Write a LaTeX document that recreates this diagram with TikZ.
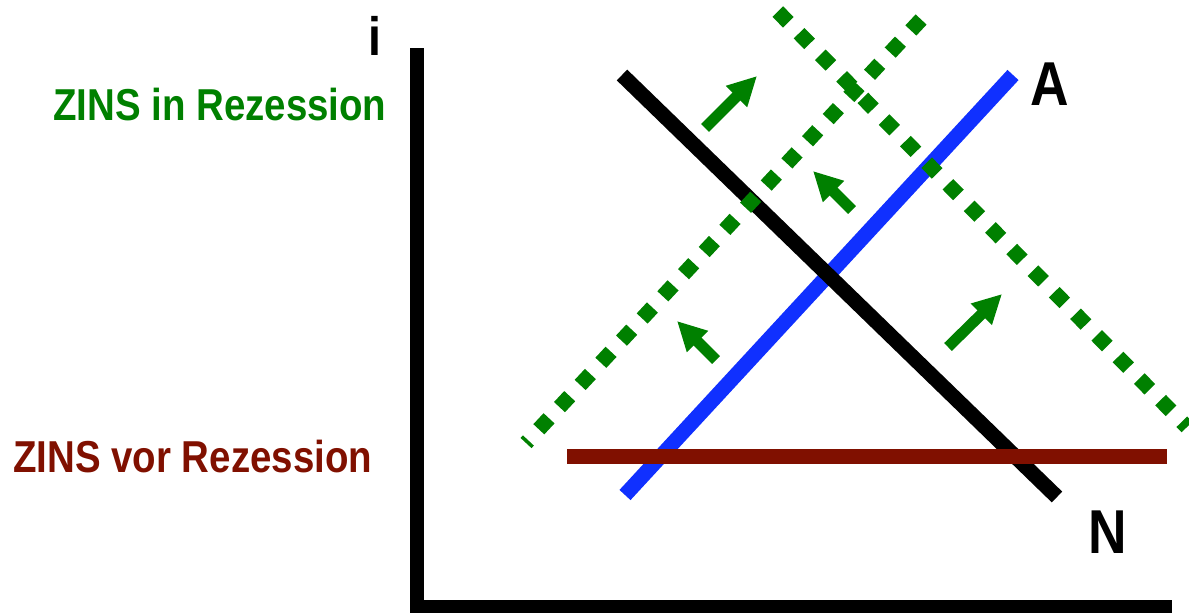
\documentclass[tikz,border=0pt]{standalone}
\usepackage{fontspec}
\setmainfont{Liberation Sans}[FakeStretch=0.86]
\usetikzlibrary{arrows.meta}
\definecolor{zgreen}{RGB}{0,128,0}
\definecolor{zblue}{RGB}{16,48,255}
\definecolor{zbrown}{RGB}{128,16,0}
\begin{document}
\begin{tikzpicture}[x=1pt,y=-1pt,
  axisline/.style={line width=14pt,black,line join=miter},
  curveline/.style={line width=15pt},
  shiftline/.style={zgreen,line width=15pt,dash pattern=on 15pt off 15.3pt},
  movearrow/.style={zgreen,line width=11pt,-{Triangle[width=28pt,length=29pt]}},
  lab/.style={inner sep=0pt,anchor=base west,font=\bfseries\fontsize{44.7}{50}\selectfont},
  big/.style={inner sep=0pt,anchor=base west,font=\bfseries\fontsize{62}{70}\selectfont}]
\useasboundingbox (0,0) rectangle (1189,613);
% axes
\coordinate (ytop) at (417,48);
\coordinate (orig) at (417,607);
\coordinate (xend) at (1172,607);
\draw[axisline] (ytop) -- (orig) -- (xend);
% curves
\coordinate (a1) at (625,495);
\coordinate (a2) at (1013,75);
\coordinate (n1) at (622,75);
\coordinate (n2) at (1057,497);
\coordinate (z1) at (567,456);
\coordinate (z2) at (1167,456);
\draw[curveline,zblue] (a1) -- (a2);
\draw[curveline,black] (n1) -- (n2);
\draw[zbrown,line width=15pt] (z1) -- (z2);
% shifted curves
\coordinate (s1) at (921.1,19.5);
\coordinate (s2) at (526,443);
\coordinate (t1) at (777.8,11.6);
\coordinate (t2) at (1187,427);
\draw[shiftline] (s1) -- (s2);
\draw[shiftline] (t1) -- (t2);
% arrows
\coordinate (m1a) at (705,128);
\coordinate (m1b) at (757,76);
\coordinate (m2a) at (852,210);
\coordinate (m2b) at (813,171);
\coordinate (m3a) at (716,360);
\coordinate (m3b) at (677,321);
\coordinate (m4a) at (948,347);
\coordinate (m4b) at (1002,294);
\draw[movearrow] (m1a) -- (m1b);
\draw[movearrow] (m2a) -- (m2b);
\draw[movearrow] (m3a) -- (m3b);
\draw[movearrow] (m4a) -- (m4b);
% labels
\node[lab,text=zgreen] (zin) at (53,120) {ZINS in Rezession};
\node[lab,text=zbrown] (zvor) at (13,472) {ZINS vor Rezession};
\node[inner sep=0pt,anchor=base,font=\bfseries\fontsize{54}{60}\selectfont] (il) at (374.5,55) {i};
\node[big] (al) at (1030,105) {A};
\node[big] (nl) at (1088,553) {N};
\end{tikzpicture}
\end{document}
